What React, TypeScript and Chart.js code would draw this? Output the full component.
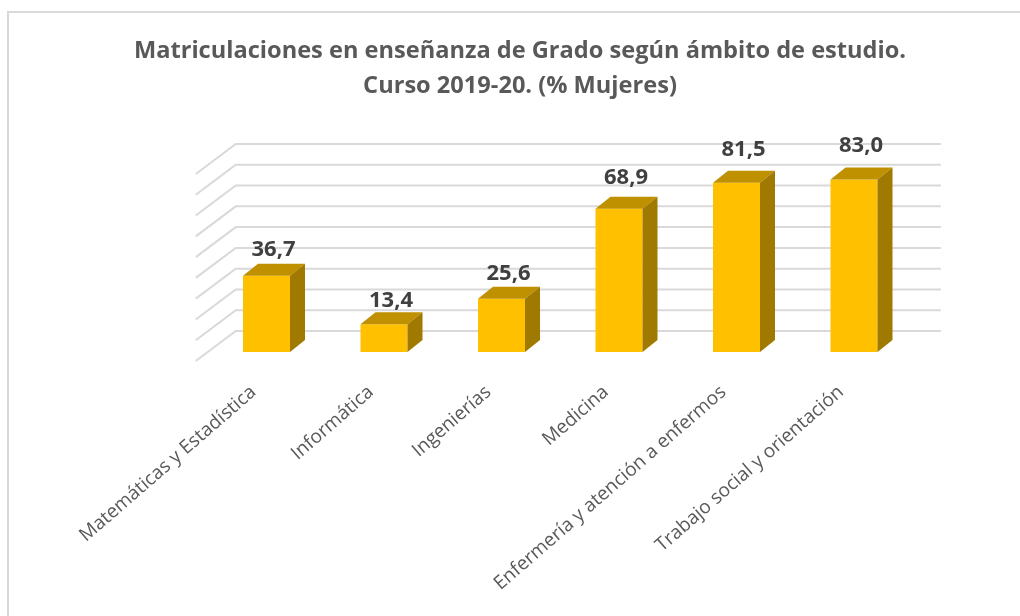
import React, { useEffect, useRef } from 'react';
import { Chart, registerables } from 'chart.js';

Chart.register(...registerables);

const categories = [
  'Matemáticas y Estadística',
  'Informática',
  'Ingenierías',
  'Medicina',
  'Enfermería y atención a enfermos',
  'Trabajo social y orientación',
];
const womenPct = [36.7, 13.4, 25.6, 68.9, 81.5, 83.0];
const gridValues = [0, 10, 20, 30, 40, 50, 60, 70, 80, 90];
const titleLines = [
  'Matriculaciones en enseñanza de Grado según ámbito de estudio.',
  'Curso 2019-20. (% Mujeres)',
];

const BAR_DX = 15;
const BAR_DY = 12;
const WALL_DX = 28;
const WALL_DY = 21;
const SIDE_DX = 40;
const SIDE_DY = 30;

const fmt = (v: number) => v.toFixed(1).replace('.', ',');

const excel3d = {
  id: 'excel3d',
  beforeDraw(chart: any) {
    const ctx = chart.ctx as CanvasRenderingContext2D;
    ctx.save();
    ctx.fillStyle = '#ffffff';
    ctx.fillRect(0, 0, chart.width, chart.height);
    ctx.strokeStyle = '#d9d9d9';
    ctx.lineWidth = 2;
    ctx.strokeRect(8, 12, chart.width + 40, chart.height + 40);
    ctx.fillStyle = '#595959';
    ctx.font = 'bold 23.6px "Open Sans"';
    ctx.textAlign = 'center';
    ctx.textBaseline = 'middle';
    titleLines.forEach((t, i) => ctx.fillText(t, 520, 51 + i * 35));
    ctx.restore();
  },
  beforeDatasetsDraw(chart: any) {
    const ctx = chart.ctx as CanvasRenderingContext2D;
    const area = chart.chartArea;
    const y = chart.scales.y;
    ctx.save();
    ctx.strokeStyle = '#d9d9d9';
    ctx.lineWidth = 2;
    for (const v of gridValues) {
      const yb = y.getPixelForValue(v) - WALL_DY;
      const xl = area.left + WALL_DX;
      ctx.beginPath();
      ctx.moveTo(xl - SIDE_DX, yb + SIDE_DY);
      ctx.lineTo(xl, yb);
      ctx.lineTo(area.right + WALL_DX, yb);
      ctx.stroke();
    }
    ctx.restore();
  },
  afterDatasetsDraw(chart: any) {
    const ctx = chart.ctx as CanvasRenderingContext2D;
    const meta = chart.getDatasetMeta(0);
    ctx.save();
    const poly = (pts: number[][]) => {
      ctx.beginPath();
      ctx.moveTo(pts[0][0], pts[0][1]);
      for (let k = 1; k < pts.length; k++) ctx.lineTo(pts[k][0], pts[k][1]);
      ctx.closePath();
      ctx.fill();
    };
    meta.data.forEach((bar: any, i: number) => {
      const { x, y, base, width } = bar.getProps(['x', 'y', 'base', 'width'], true);
      const l = x - width / 2;
      const r = x + width / 2;
      ctx.fillStyle = '#BF9000';
      poly([[l, y], [l + BAR_DX, y - BAR_DY], [r + BAR_DX, y - BAR_DY], [r, y]]);
      ctx.fillStyle = '#A07A00';
      poly([[r, y], [r + BAR_DX, y - BAR_DY], [r + BAR_DX, base - BAR_DY], [r, base]]);
      const v = womenPct[i];
      ctx.fillStyle = '#404040';
      ctx.font = 'bold 22px "Open Sans"';
      ctx.textAlign = 'center';
      ctx.textBaseline = 'middle';
      ctx.fillText(fmt(v), x + 7, y - (21 + 0.15 * v));
    });
    ctx.restore();
  },
};

export default function App() {
  const ref = useRef<HTMLCanvasElement | null>(null);
  useEffect(() => {
    document.body.style.margin = '0';
    if (!ref.current) return;
    const chart = new Chart(ref.current, {
      type: 'bar',
      data: {
        labels: categories,
        datasets: [
          {
            data: womenPct,
            backgroundColor: '#FFC000',
            borderWidth: 0,
            categoryPercentage: 1,
            barPercentage: 0.4,
          },
        ],
      },
      options: {
        animation: false,
        responsive: false,
        devicePixelRatio: 1,
        layout: { padding: { left: 207.75, right: 107.25, top: 165, bottom: 0 } },
        plugins: { legend: { display: false }, tooltip: { enabled: false }, title: { display: false } },
        scales: {
          y: { display: false, min: 0, max: 90 },
          x: {
            grid: { display: false },
            border: { display: false },
            afterFit: (scale: any) => {
              scale.height = 264;
            },
            ticks: {
              autoSkip: false,
              minRotation: 41,
              maxRotation: 41,
              labelOffset: -13,
              padding: 21,
              color: '#595959',
              font: { family: 'Open Sans', size: 19 },
            },
          },
        },
      },
      plugins: [excel3d],
    });
    return () => chart.destroy();
  }, []);
  return (
    <div style={{ width: 1020, height: 616 }}>
      <canvas ref={ref} width={1020} height={616} style={{ display: 'block' }} />
    </div>
  );
}
